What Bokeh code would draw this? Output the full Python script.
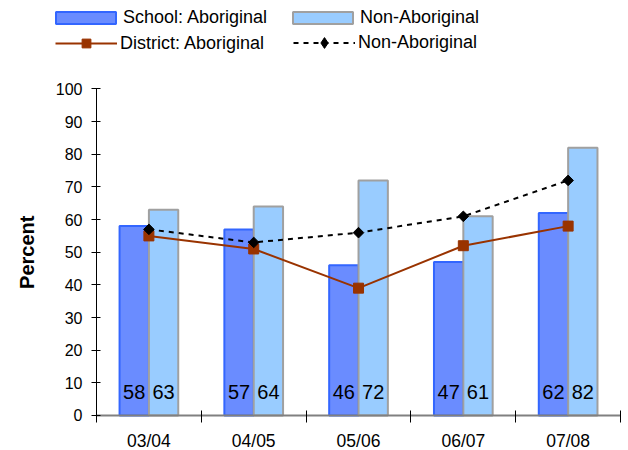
import math
from bokeh.plotting import figure
from bokeh.models import (ColumnDataSource, Range1d, FixedTicker, Legend, LegendItem, Label)
from bokeh.transform import dodge
from bokeh.core.properties import value
from bokeh.embed import file_html
from bokeh.resources import INLINE

categories = ["03/04", "04/05", "05/06", "06/07", "07/08"]
school_aboriginal = [58, 57, 46, 47, 62]
school_non_aboriginal = [63, 64, 72, 61, 82]
district_aboriginal = [55, 51, 39, 52, 58]
district_non_aboriginal = [57, 53, 56, 61, 72]
y_ticks = [0, 10, 20, 30, 40, 50, 60, 70, 80, 90, 100]

FONT = "Liberation Sans"

xc = [i + 0.5 for i in range(len(categories))]
src = ColumnDataSource(dict(
    x=xc, cat=categories,
    sa=school_aboriginal, sn=school_non_aboriginal,
    da=district_aboriginal, dn=district_non_aboriginal,
    sa_lbl=[str(v) for v in school_aboriginal],
    sn_lbl=[str(v) for v in school_non_aboriginal],
))

n = len(categories)
# the frame spans the whole figure; both axes are pinned inside it
p = figure(width=628, height=450, x_range=Range1d(-0.916, n + 0.076),
           y_range=Range1d(-10.72, 127.1), output_backend="svg", toolbar_location=None,
           min_border_left=0, min_border_right=0, min_border_top=0, min_border_bottom=0)
p.outline_line_color = None
p.xgrid.grid_line_color = None
p.ygrid.grid_line_color = None

off = 0.14
bw = 0.28
r_sa = p.vbar(x=dodge('x', -off, range=p.x_range), top='sa', width=bw, source=src,
              fill_color="#6A8CFF", line_color="#3366FF", line_width=2)
r_sn = p.vbar(x=dodge('x', off, range=p.x_range), top='sn', width=bw, source=src,
              fill_color="#99CCFF", line_color="#A0A0A0", line_width=2)

r_dl = p.line('x', 'da', source=src, line_color="#993300", line_width=2)
r_dm = p.scatter('x', 'da', source=src, marker="square", size=10,
                 fill_color="#993300", line_color="#993300")
r_nl = p.line('x', 'dn', source=src, line_color="black", line_width=2, line_dash="5 5")
r_nm = p.scatter('x', 'dn', source=src, marker="square", angle=math.pi / 4, size=7.5,
                 fill_color="black", line_color="black")
# legend-only diamond (legend glyphs ignore marker angles)
r_nm_leg = p.scatter('x', 'dn', source=src, marker="diamond", size=12,
                     fill_color="black", line_color="black", visible=False)

for col, lbl in ((-off, 'sa_lbl'), (off, 'sn_lbl')):
    p.text(x=dodge('x', col, range=p.x_range), y=7.2, text=lbl, source=src,
           text_align="center", text_baseline="middle", text_font=value(FONT),
           text_font_size="20px", text_color="black")

# axes
xa = p.xaxis[0]
xa.fixed_location = 0
xa.bounds = (0, n)
xa.ticker = FixedTicker(ticks=xc, minor_ticks=list(range(n + 1)))
xa.major_label_overrides = {x: c for x, c in zip(xc, categories)}
xa.axis_line_color = "#808080"
xa.axis_line_width = 2
xa.major_tick_line_color = None
xa.major_tick_in = 0
xa.major_tick_out = 0
xa.minor_tick_line_color = "black"
xa.minor_tick_in = 5
xa.minor_tick_out = 7
xa.major_label_standoff = 9
xa.major_label_text_font = FONT
xa.major_label_text_font_size = "17.5px"
xa.major_label_text_color = "black"

ya = p.yaxis[0]
ya.fixed_location = 0
ya.ticker = FixedTicker(ticks=y_ticks)
ya.bounds = (0, 100)
ya.axis_line_color = "black"
ya.major_tick_line_color = "black"
ya.major_tick_in = 4
ya.major_tick_out = 5
ya.minor_tick_line_color = None
ya.major_label_standoff = 9
ya.major_label_text_font = FONT
ya.major_label_text_font_size = "16px"
ya.major_label_text_color = "black"

p.add_layout(Label(x=26, y=50, x_units="screen", y_units="data", text="Percent",
                   angle=math.pi / 2, text_align="center", text_baseline="middle",
                   text_font=FONT, text_font_size="20px", text_font_style="bold",
                   text_color="black"))


def add_legend(label, renderers, x, y, gw, gh, standoff):
    lg = Legend(items=[LegendItem(label=label, renderers=renderers)], location=(x, y),
                orientation="vertical", glyph_width=gw, glyph_height=gh, label_height=gh,
                label_standoff=standoff, padding=0, margin=0, spacing=0,
                border_line_color=None, background_fill_alpha=0,
                label_text_font=FONT, label_text_font_size="18px",
                label_text_color="black")
    p.add_layout(lg)


add_legend("School: Aboriginal", [r_sa], 48, 422, 75, 15, 0)
add_legend("Non-Aboriginal", [r_sn], 285, 422, 75, 15, 0)
add_legend("District: Aboriginal", [r_dl, r_dm], 55, 396, 62, 22, 3)
add_legend("Non-Aboriginal", [r_nl, r_nm_leg], 293, 394, 62, 27, 3)

open("out.html", "w").write(file_html(p, INLINE))
